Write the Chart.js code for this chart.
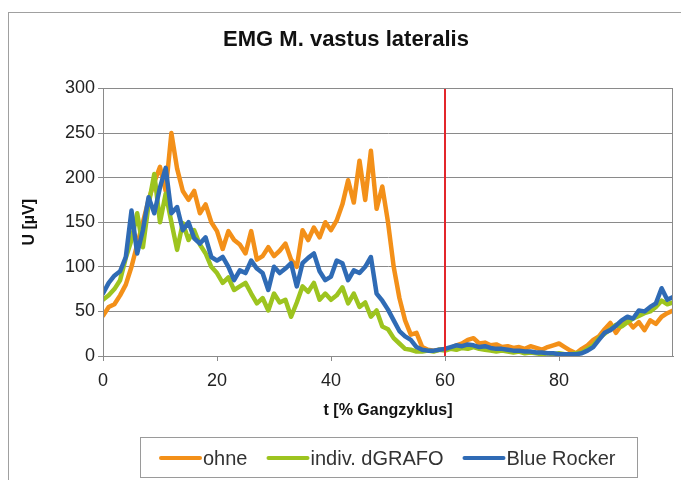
<!DOCTYPE html>
<html>
<head>
<meta charset="utf-8">
<script src="https://cdn.jsdelivr.net/npm/chart.js@4.4.1/dist/chart.umd.min.js"></script>
<style>
  html, body { margin: 0; padding: 0; background: #fff; }
  #wrap { width: 681px; height: 480px; }
</style>
</head>
<body>
<div id="wrap"><canvas id="c" width="681" height="480"></canvas></div>
<script>
// ---- data ----
const chartTitle = 'EMG M. vastus lateralis';
const xTitle = 't [% Gangzyklus]';
const yTitle = 'U [µV]';
const seriesNames = ['ohne', 'indiv. dGRAFO', 'Blue Rocker'];
const xTicks = [0, 20, 40, 60, 80];
const yTicks = [0, 50, 100, 150, 200, 250, 300];
const markerX = 60;

const tPct = [0,1,2,3,4,5,6,7,8,9,10,11,12,13,14,15,16,17,18,19,20,21,22,23,24,25,26,27,28,29,30,31,32,33,34,35,36,37,38,39,40,41,42,43,44,45,46,47,48,49,50,51,52,53,54,55,56,57,58,59,60,61,62,63,64,65,66,67,68,69,70,71,72,73,74,75,76,77,78,79,80,81,82,83,84,85,86,87,88,89,90,91,92,93,94,95,96,97,98,99,100];

const ohne = [45,55,58,68,80,100,125,150,175,195,212,185,250,210,185,175,185,160,170,150,
  140,120,140,130,125,115,140,108,112,122,112,118,126,108,100,141,130,144,133,150,
  141,152,170,197,172,219,175,230,165,190,150,100,65,40,24,26,10,7,6,7,
  8,9,12,14,18,20,14,15,12,13,10,11,9,10,8,11,9,7,10,12,
  14,10,6,3,8,12,18,22,30,37,26,35,40,32,38,29,40,36,44,48,51];

const dgrafo = [63,68,75,85,110,130,160,122,170,204,150,182,150,119,149,130,141,125,115,100,
  93,82,88,74,78,82,70,59,65,51,70,60,63,44,60,78,72,82,63,70,
  63,68,77,59,70,55,60,44,51,33,30,20,14,8,7,5,5,6,5,7,
  6,8,7,9,8,10,8,7,6,5,6,5,4,5,3,4,3,2,3,2,
  3,2,2,3,4,8,12,20,25,30,35,33,38,42,45,48,50,55,62,58,60];

const blueRocker = [70,82,90,95,111,163,115,141,178,160,189,211,160,167,141,150,132,126,133,111,
  107,111,100,85,96,93,107,98,93,74,100,93,98,104,78,104,110,115,95,85,
  89,107,104,85,96,93,100,111,70,62,52,40,28,22,18,10,7,6,6,7,
  8,10,12,11,13,12,10,11,9,8,8,7,6,6,5,5,4,4,3,3,
  2,2,2,2,3,6,10,18,26,29,34,40,44,42,51,50,55,59,76,63,66];

// ---- styles ----
const colors = ['#F39019', '#9DC41F', '#2F6BB5'];
const FONT = '"Liberation Sans", Arial, sans-serif';

function pts(ys) { return tPct.map((t, i) => ({ x: t, y: ys[i] })); }

const seriesData = [ohne, dgrafo, blueRocker];
const datasets = seriesData.map((ys, i) => ({
  label: seriesNames[i],
  data: pts(ys),
  borderColor: colors[i],
  backgroundColor: colors[i],
  borderWidth: 4.5,
  pointRadius: 0,
  tension: 0,
  borderJoinStyle: 'round',
  borderCapStyle: 'round',
  order: 3 - i
}));
datasets.push({
  label: '_marker',
  data: [{ x: markerX, y: yTicks[0] }, { x: markerX, y: yTicks[yTicks.length - 1] }],
  borderColor: '#E3262B',
  borderWidth: 2,
  pointRadius: 0,
  order: 0
});

const frame = {
  id: 'frame',
  afterLayout(chart) {
    const tb = chart.titleBlock;
    if (tb) { tb.left += 19; tb.right += 0; }
  },
  beforeDraw(chart) {
    const ctx = chart.ctx;
    ctx.save();
    ctx.fillStyle = '#fff';
    ctx.fillRect(0, 0, chart.width, chart.height);
    ctx.strokeStyle = '#a0a0a0';
    ctx.lineWidth = 1;
    ctx.strokeRect(8.5, 12.5, chart.width + 10, chart.height + 10);
    ctx.restore();
  },
  afterDatasetsDraw(chart) {
    const a = chart.chartArea, ctx = chart.ctx;
    ctx.save();
    ctx.strokeStyle = '#8a8a8a';
    ctx.lineWidth = 1;
    ctx.strokeRect(Math.round(a.left) + 0.5, Math.round(a.top) + 0.5,
      Math.round(a.right - a.left) - 1, Math.round(a.bottom - a.top));
    ctx.restore();
  },
  afterDraw(chart) {
    const ctx = chart.ctx;
    ctx.save();
    ctx.strokeStyle = '#9a9a9a';
    ctx.lineWidth = 1;
    ctx.strokeRect(140.5, 437.5, 497, 40);
    ctx.font = '20px ' + FONT;
    ctx.textBaseline = 'middle';
    ctx.fillStyle = '#333';
    let x = 159;
    const y = 458;
    chart.data.datasets.filter(d => d.label[0] !== '_').forEach(d => {
      ctx.strokeStyle = d.borderColor;
      ctx.lineWidth = 4;
      ctx.lineCap = 'round';
      ctx.beginPath();
      ctx.moveTo(x + 2, y);
      ctx.lineTo(x + 41, y);
      ctx.stroke();
      x += 44;
      ctx.fillText(d.label, x, y + 1);
      x += ctx.measureText(d.label).width + 19;
    });
    ctx.restore();
  }
};

new Chart(document.getElementById('c'), {
  type: 'line',
  data: { datasets },
  options: {
    responsive: false,
    animation: false,
    devicePixelRatio: 1,
    layout: { padding: { left: 0, right: 8, top: 0, bottom: 52 } },
    plugins: {
      legend: { display: false },
      tooltip: { enabled: false },
      title: {
        display: true,
        text: chartTitle,
        color: '#111',
        font: { family: FONT, size: 22, weight: 'bold' },
        padding: { top: 27, bottom: 35 }
      }
    },
    scales: {
      x: {
        type: 'linear',
        min: 0,
        max: 100,
        afterBuildTicks(s) { s.ticks = xTicks.map(v => ({ value: v })); },
        afterFit(s) { s.height = 72; },
        grid: { drawOnChartArea: false, drawTicks: true, tickLength: 5, color: '#8a8a8a' },
        border: { display: true, color: '#8a8a8a' },
        ticks: { color: '#222', font: { family: FONT, size: 18 }, padding: 9, maxRotation: 0 },
        title: {
          display: true, text: xTitle, color: '#111',
          font: { family: FONT, size: 16, weight: 'bold' },
          padding: { top: 4, bottom: 8 }
        }
      },
      y: {
        type: 'linear',
        min: 0,
        max: 300,
        afterBuildTicks(s) { s.ticks = yTicks.map(v => ({ value: v })); },
        afterFit(s) { s.width = 103; },
        grid: { color: '#8a8a8a', lineWidth: 1, tickLength: 5 },
        border: { display: true, color: '#8a8a8a' },
        ticks: { color: '#222', font: { family: FONT, size: 18 }, padding: 3 },
        title: {
          display: true, text: yTitle, color: '#111',
          font: { family: FONT, size: 16, weight: 'bold' },
          padding: { top: 20, bottom: 0 }
        }
      }
    }
  },
  plugins: [frame]
});
</script>
</body>
</html>
